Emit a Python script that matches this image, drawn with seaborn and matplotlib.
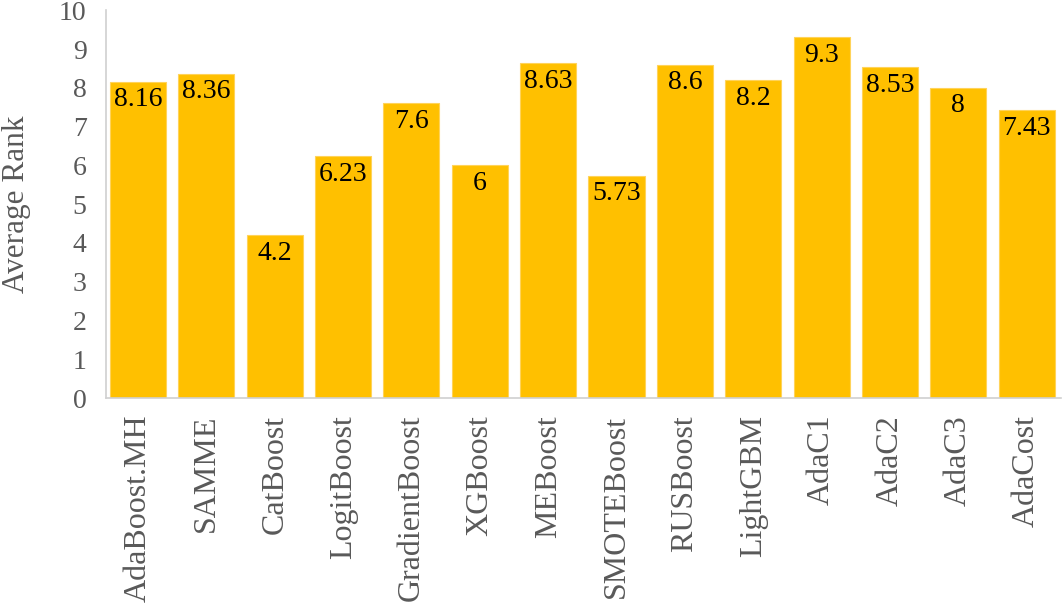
import pandas as pd
import seaborn as sns
import matplotlib.pyplot as plt

methods = ['AdaBoost.MH', 'SAMME', 'CatBoost', 'LogitBoost', 'GradientBoost',
           'XGBoost', 'MEBoost', 'SMOTEBoost', 'RUSBoost', 'LightGBM',
           'AdaC1', 'AdaC2', 'AdaC3', 'AdaCost']
avg_rank = [8.16, 8.36, 4.2, 6.23, 7.6, 6, 8.63, 5.73, 8.6, 8.2, 9.3, 8.53, 8, 7.43]
rank_labels = ['8.16', '8.36', '4.2', '6.23', '7.6', '6', '8.63', '5.73',
               '8.6', '8.2', '9.3', '8.53', '8', '7.43']

df = pd.DataFrame({'Method': methods, 'Average Rank': avg_rank})

sns.set_style('white')
serif = ['Liberation Serif', 'DejaVu Serif']
plt.rcParams['font.family'] = serif

fig = plt.figure(figsize=(10.62, 6.05), dpi=100)
ax = fig.add_axes([0.0998, 0.342, 0.899, 0.641])

sns.barplot(data=df, x='Method', y='Average Rank', color='#FFC000',
            width=0.82, saturation=1, edgecolor='#FFD35A', linewidth=0.8, ax=ax)

for cont in ax.containers:
    ax.bar_label(cont, labels=rank_labels, label_type='edge', padding=-22,
                 fontsize=20, color='black', family=serif)

ax.set_ylim(0, 10)
ax.set_xlim(-0.47, 13.5)
ax.set_yticks(range(0, 11))
ax.set_xlabel('')
ax.set_ylabel('Average Rank', fontsize=22.5, color='#595959', labelpad=20,
              family=serif)
ax.tick_params(axis='y', labelsize=20, colors='#595959', length=0, pad=14)
ax.tick_params(axis='x', labelsize=23, colors='#595959', length=0, pad=12,
               labelrotation=90)

for side in ['top', 'right']:
    ax.spines[side].set_visible(False)
for side in ['left', 'bottom']:
    ax.spines[side].set_color('#D0D0D0')
    ax.spines[side].set_linewidth(1.2)

fig.savefig('out.png', dpi=100)
